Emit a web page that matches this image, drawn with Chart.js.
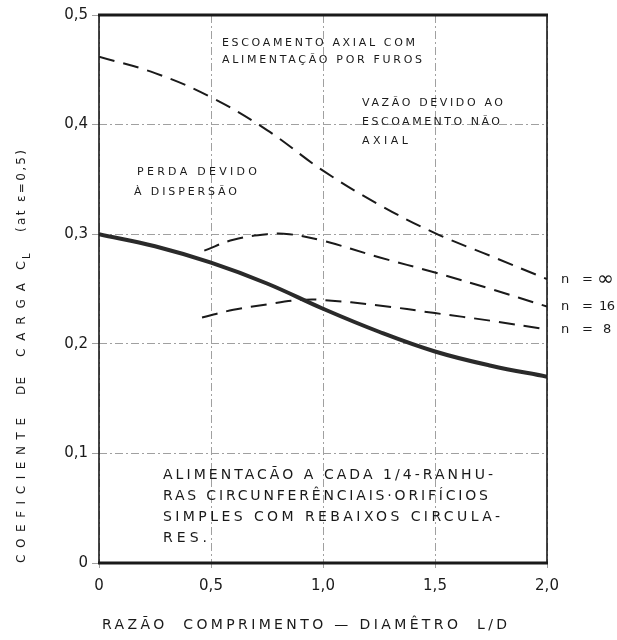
<!DOCTYPE html>
<html>
<head>
<meta charset="utf-8">
<script src="https://cdn.jsdelivr.net/npm/chart.js@4.4.0/dist/chart.umd.min.js"></script>
<style>
  html, body { margin: 0; padding: 0; background: #fff; }
</style>
</head>
<body>
<canvas id="chart" width="617" height="640"></canvas>
<script>
// Values
const razaoLD = [0, 0.25, 0.5, 0.75, 1.0, 1.25, 1.5, 1.75, 2.0];
const perdaDispersao = [0.300, 0.289, 0.274, 0.255, 0.232, 0.211, 0.193, 0.180, 0.170];
const nInfinito = [0.462, 0.447, 0.425, 0.395, 0.358, 0.327, 0.301, 0.280, 0.259];
const razaoLD16 = [0.47, 0.6, 0.75, 0.85, 1.0, 1.25, 1.5, 1.75, 2.0];
const n16 = [0.285, 0.295, 0.300, 0.300, 0.294, 0.279, 0.265, 0.250, 0.234];
const razaoLD8 = [0.46, 0.6, 0.75, 0.9, 1.0, 1.25, 1.5, 1.75, 2.0];
const n8 = [0.224, 0.231, 0.236, 0.240, 0.240, 0.235, 0.228, 0.221, 0.213];
const serieLabels = ['∞', '16', '8'];
const xTickLabels = ['0', '0,5', '1,0', '1,5', '2,0'];
const yTickLabels = ['0', '0,1', '0,2', '0,3', '0,4', '0,5'];

const FONT = '"DejaVu Sans", sans-serif';
const INK = '#1a1a1a';

function toPoints(xs, ys) {
  return xs.map((x, i) => ({ x: x, y: ys[i] }));
}

// Draws the frame, axis titles, notes and the n = ... labels
const lettering = {
  id: 'lettering',
  afterDraw(chart) {
    const ctx = chart.ctx;
    const a = chart.chartArea;
    const yScale = chart.scales.y;

    ctx.save();
    ctx.strokeStyle = INK;
    ctx.setLineDash([]);
    ctx.lineWidth = 3;
    ctx.beginPath();
    ctx.moveTo(a.left - 1, a.top); ctx.lineTo(a.right + 1, a.top);
    ctx.moveTo(a.left - 1, a.bottom); ctx.lineTo(a.right + 1, a.bottom);
    ctx.stroke();
    ctx.lineWidth = 1.6;
    ctx.beginPath();
    ctx.moveTo(a.left, a.top); ctx.lineTo(a.left, a.bottom);
    ctx.moveTo(a.right, a.top); ctx.lineTo(a.right, a.bottom);
    ctx.stroke();

    ctx.fillStyle = INK;
    ctx.textBaseline = 'middle';
    ctx.textAlign = 'left';

    // writes txt from x0 to x1, spreading the letters to fit
    function fit(txt, x0, x1, y, size) {
      ctx.font = size + 'px ' + FONT;
      ctx.letterSpacing = '0px';
      const n = [...txt].length;
      const w = ctx.measureText(txt).width;
      const sp = n > 1 ? (x1 - x0 - w) / (n - 1) : 0;
      ctx.letterSpacing = sp + 'px';
      ctx.fillText(txt, x0, y);
      ctx.letterSpacing = '0px';
    }
    function write(txt, x, y, size) {
      ctx.font = size + 'px ' + FONT;
      ctx.letterSpacing = '0px';
      ctx.fillText(txt, x, y);
    }

    // notes inside the plot
    fit('ESCOAMENTO AXIAL COM', 222, 415, 43, 11);
    fit('ALIMENTAÇÃO POR FUROS', 222, 422, 60, 11);
    fit('VAZÃO DEVIDO AO', 362, 503, 103, 11);
    fit('ESCOAMENTO NÃO', 362, 500, 122, 11);
    fit('AXIAL', 362, 408, 141, 11);
    fit('PERDA DEVIDO', 137, 257, 172, 11);
    fit('À DISPERSÃO', 134, 237, 192, 11);
    fit('ALIMENTACÃO A CADA 1/4-RANHU-', 163, 493, 475, 14);
    fit('RAS CIRCUNFERÊNCIAIS·ORIFÍCIOS', 163, 488, 496, 14);
    fit('SIMPLES COM REBAIXOS CIRCULA-', 163, 500, 517, 14);
    fit('RES.', 163, 207, 538, 14);

    // n labels at the right end of each dashed curve
    const ends = [nInfinito[nInfinito.length - 1], n16[n16.length - 1], n8[n8.length - 1]];
    ends.forEach((v, i) => {
      const py = yScale.getPixelForValue(v);
      write('n', 561, py, 13);
      write('=', 582, py, 13);
      if (i === 0) write(serieLabels[i], 597, py + 1, 20);
      else if (i === 1) fit(serieLabels[i], 599, 615, py, 13);
      else write(serieLabels[i], 603, py, 13);
    });

    // x axis title
    fit('RAZÃO  COMPRIMENTO — DIAMÊTRO  L/D', 102, 507, 625, 14);

    // y axis title, rotated (reads bottom to top)
    ctx.translate(22, 0);
    ctx.rotate(-Math.PI / 2);
    fit('COEFICIENTE', -563, -418, 0, 12);
    fit('DE', -395, -377, 0, 12);
    fit('CARGA', -357, -283, 0, 12);
    write('C', -270, 0, 13);
    write('L', -259, 5, 10);
    fit('(at ε=0,5)', -232, -150, 0, 12);
    ctx.restore();
  }
};

const solidStyle = {
  borderColor: '#2a2a2a',
  borderWidth: 4,
  pointRadius: 0,
  tension: 0.4,
  fill: false
};
const dashStyle = {
  borderColor: INK,
  borderWidth: 2,
  borderDash: [16, 9],
  pointRadius: 0,
  tension: 0.4,
  fill: false
};

new Chart(document.getElementById('chart').getContext('2d'), {
  type: 'line',
  data: {
    datasets: [
      Object.assign({ label: 'Perda devido à dispersão', data: toPoints(razaoLD, perdaDispersao) }, solidStyle),
      Object.assign({ label: 'n = ∞', data: toPoints(razaoLD, nInfinito) }, dashStyle),
      Object.assign({ label: 'n = 16', data: toPoints(razaoLD16, n16) }, dashStyle),
      Object.assign({ label: 'n = 8', data: toPoints(razaoLD8, n8) }, dashStyle)
    ]
  },
  options: {
    responsive: false,
    animation: false,
    devicePixelRatio: 1,
    layout: { padding: { top: 15, right: 70, left: 0, bottom: 0 } },
    scales: {
      x: {
        type: 'linear',
        min: 0,
        max: 2,
        afterFit: s => { s.height = 77; },
        ticks: {
          stepSize: 0.5,
          color: INK,
          font: { family: FONT, size: 15 },
          padding: 9,
          maxRotation: 0,
          callback: v => xTickLabels[Math.round(v / 0.5)]
        },
        grid: { color: '#a0a0a0', lineWidth: 1, tickLength: 5 },
        border: { display: false, dash: [8, 3, 2, 3] }
      },
      y: {
        min: 0,
        max: 0.5,
        afterFit: s => { s.width = 99; },
        ticks: {
          stepSize: 0.1,
          color: INK,
          font: { family: FONT, size: 15 },
          padding: 4,
          callback: v => yTickLabels[Math.round(v * 10)]
        },
        grid: { color: '#a0a0a0', lineWidth: 1, tickLength: 7 },
        border: { display: false, dash: [8, 3, 2, 3] }
      }
    },
    plugins: {
      legend: { display: false },
      tooltip: { enabled: false }
    }
  },
  plugins: [lettering]
});
</script>
</body>
</html>
